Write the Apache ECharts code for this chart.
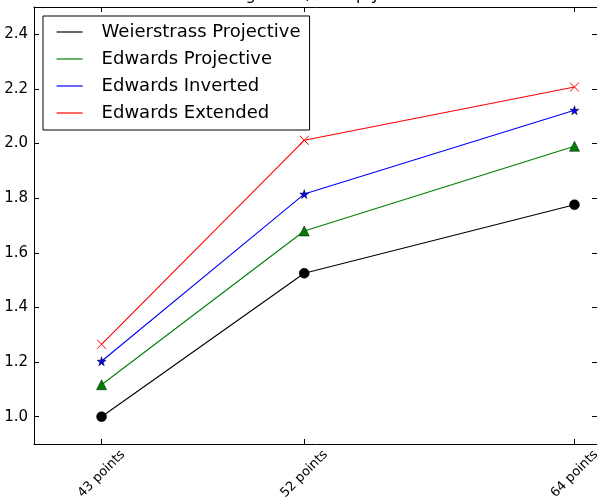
<!DOCTYPE html>
<html>
<head>
<meta charset="utf-8">
<script src="https://cdn.jsdelivr.net/npm/echarts@6/dist/echarts.min.js"></script>
<style>
  html, body { margin: 0; padding: 0; background: #fff; }
  #chart { width: 597px; height: 497px; }
</style>
</head>
<body>
<div id="chart"></div>
<script>
// Curve sizes (x positions) and their tick labels
const pointCounts = [43, 52, 64];
const pointLabels = ['43 points', '52 points', '64 points'];

// Relative cost per coordinate system
const weierstrassProjective = [1.0, 1.525, 1.776];
const edwardsProjective = [1.117, 1.68, 1.99];
const edwardsInverted = [1.203, 1.815, 2.122];
const edwardsExtended = [1.265, 2.012, 2.207];

const yTicks = [1.0, 1.2, 1.4, 1.6, 1.8, 2.0, 2.2, 2.4];

const FONT = 'DejaVu Sans';
const STAR = 'path://M50,0 L61,35 L98,35 L68,57 L79,91 L50,70 L21,91 L32,57 L2,35 L39,35 Z';
const CROSS = 'path://M0,0 L10,10 M10,0 L0,10';

function pairs(ys) {
  return pointCounts.map((x, i) => [x, ys[i]]);
}

const labelOf = {};
pointCounts.forEach((x, i) => { labelOf[x] = pointLabels[i]; });

const chart = echarts.init(document.getElementById('chart'), null, { renderer: 'canvas' });

const tickStyle = { show: true, inside: true, length: 5, lineStyle: { color: '#000', width: 1 } };
const lineAxis = { show: true, onZero: false, lineStyle: { color: '#000', width: 1 } };

chart.setOption({
  animation: false,
  backgroundColor: '#fff',
  title: {
    text: 'Sign OLL / Multiply',
    left: 226,
    top: -17,
    textStyle: { fontFamily: FONT, fontSize: 16, fontWeight: 'normal', color: '#000' }
  },
  grid: { left: 34, top: 7, right: 0, bottom: 53, containLabel: false, outerBoundsMode: 'none' },
  legend: {
    left: 43,
    top: 16,
    orient: 'vertical',
    itemWidth: 26,
    itemHeight: 14,
    itemGap: 9,
    padding: [7, 9, 8, 13],
    borderColor: '#000',
    borderWidth: 1,
    backgroundColor: '#fff',
    itemStyle: { opacity: 0 },
    lineStyle: { width: 1.2 },
    textStyle: { fontFamily: FONT, fontSize: 18, color: '#000', padding: [0, 0, 0, 14] },
    data: ['Weierstrass Projective', 'Edwards Projective', 'Edwards Inverted', 'Edwards Extended']
  },
  xAxis: [
    {
      type: 'value', min: 40, max: 65,
      axisLine: lineAxis,
      axisTick: Object.assign({ customValues: pointCounts }, tickStyle),
      splitLine: { show: false },
      axisLabel: {
        customValues: pointCounts,
        formatter: v => labelOf[v] || '',
        rotate: 45,
        align: 'center',
        verticalAlign: 'middle',
        margin: 30,
        fontFamily: FONT, fontSize: 13, color: '#000'
      }
    },
    {
      type: 'value', min: 40, max: 65, position: 'top',
      axisLine: lineAxis,
      axisTick: Object.assign({ customValues: pointCounts }, tickStyle),
      splitLine: { show: false },
      axisLabel: { show: false }
    }
  ],
  yAxis: [
    {
      type: 'value', min: 0.9, max: 2.5,
      axisLine: lineAxis,
      axisTick: Object.assign({ customValues: yTicks }, tickStyle),
      splitLine: { show: false },
      axisLabel: {
        customValues: yTicks,
        formatter: v => v.toFixed(1),
        margin: 6,
        fontFamily: FONT, fontSize: 15, color: '#000'
      }
    },
    {
      type: 'value', min: 0.9, max: 2.5, position: 'right',
      axisLine: lineAxis,
      axisTick: Object.assign({ customValues: yTicks }, tickStyle),
      splitLine: { show: false },
      axisLabel: { show: false }
    }
  ],
  series: [
    {
      name: 'Weierstrass Projective', type: 'line', data: pairs(weierstrassProjective),
      symbol: 'circle', symbolSize: 10,
      lineStyle: { color: '#000', width: 1.1 },
      itemStyle: { color: '#000', borderColor: '#000', borderWidth: 0.5 }
    },
    {
      name: 'Edwards Projective', type: 'line', data: pairs(edwardsProjective),
      symbol: 'triangle', symbolSize: 10,
      lineStyle: { color: '#008000', width: 1.1 },
      itemStyle: { color: '#008000', borderColor: '#000', borderWidth: 0.5 }
    },
    {
      name: 'Edwards Inverted', type: 'line', data: pairs(edwardsInverted),
      symbol: STAR, symbolSize: 9,
      lineStyle: { color: '#0000ff', width: 1.1 },
      itemStyle: { color: '#0000ff', borderColor: '#000', borderWidth: 0.5 }
    },
    {
      name: 'Edwards Extended', type: 'line', data: pairs(edwardsExtended),
      symbol: CROSS, symbolSize: 9,
      lineStyle: { color: '#ff0000', width: 1.1 },
      itemStyle: { color: 'none', borderColor: '#ff0000', borderWidth: 1 }
    }
  ]
});
</script>
</body>
</html>
